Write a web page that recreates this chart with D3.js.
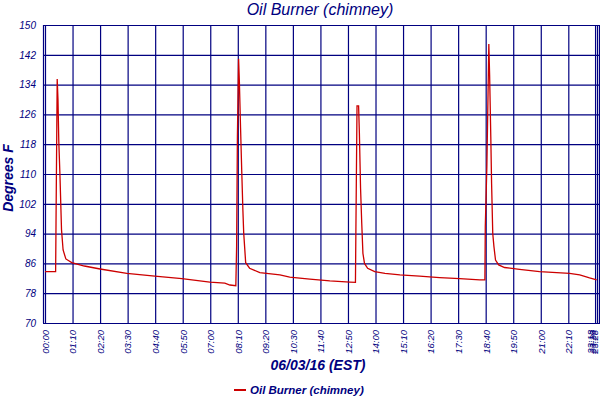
<!DOCTYPE html>
<html>
<head>
<meta charset="utf-8">
<script src="https://cdn.jsdelivr.net/npm/d3@7"></script>
<style>
  body { margin: 0; background: #fff; }
  svg { display: block; font-family: "Liberation Sans", Arial, sans-serif; }
  .axis text { fill: #000080; font-style: italic; font-size: 10px; }
  .axis line { stroke: #000080; stroke-width: 1.2; }
  .axis .domain { display: none; }
</style>
</head>
<body>
<svg id="chart"></svg>
<script>
// Readings: time of day (HH:MM) and temperature in degrees F
const times = [
  '00:00','00:27','00:28','00:30','00:31','00:33','00:35','00:38','00:42','00:46','00:53','01:08','01:40','02:20','03:28','04:39','05:48','06:59','07:37','07:50','08:05',
  '08:07','08:09','08:12','08:14','08:17','08:20','08:23','08:25','08:30','08:40','09:06','09:57','10:22','11:13','12:04','12:55','13:09',
  '13:10','13:13','13:17','13:19','13:22','13:25','13:28','13:32','13:40','13:58','14:24','15:02','15:52','16:43','17:34','18:25','18:38',
  '18:39','18:43','18:48','18:50','18:53','18:55','18:58','19:01','19:05','19:13','19:28','20:06','20:57','22:13','22:39','23:04','23:22'
];
const temps = [
  83.8, 83.8, 96.8, 122.7, 135.5, 130, 119, 109.7, 95, 89.6, 87.2, 86.2, 85.3, 84.5, 83.3, 82.6, 81.9, 81, 80.7, 80.2, 80.0,
  90.5, 120, 140.9, 134.8, 122.4, 110.9, 100.1, 94.2, 86.2, 84.7, 83.5, 82.9, 82.3, 81.8, 81.3, 81.0, 80.9,
  93.2, 128.3, 128.3, 121, 106.2, 96.8, 88.7, 86, 84.7, 83.8, 83.3, 82.9, 82.6, 82.2, 81.9, 81.6, 81.6,
  95.9, 112, 144.9, 136.6, 120, 107.5, 94, 90.5, 86.9, 85.6, 84.9, 84.4, 83.8, 83.3, 82.9, 82.1, 81.6
];

const yTicks = [70, 78, 86, 94, 102, 110, 118, 126, 134, 142, 150];
const xTickLabels = [
  '00:00','01:10','02:20','03:30','04:40','05:50','07:00','08:10','09:20','10:30',
  '11:40','12:50','14:00','15:10','16:20','17:30','18:40','19:50','21:00','22:10',
  '23:18','23:23','23:28'
];

const title = 'Oil Burner (chimney)';
const yTitle = 'Degrees F';
const xTitle = '06/03/16 (EST)';
const seriesName = 'Oil Burner (chimney)';

const toMinutes = s => { const [h, m] = s.split(':').map(Number); return h * 60 + m; };
const data = times.map((t, i) => ({ t: toMinutes(t), v: temps[i] }));

const navy = '#000080';
const red = '#cc0000';

const W = 600, H = 400;
const margin = { top: 25, right: 1, bottom: 77, left: 45 };
const width = W - margin.left - margin.right;
const height = H - margin.top - margin.bottom;

const svg = d3.select('#chart').attr('width', W).attr('height', H);

const x = d3.scaleLinear()
  .domain([0, toMinutes(xTickLabels[xTickLabels.length - 1])])
  .range([0, width]);

const y = d3.scaleLinear()
  .domain([70, 150])
  .range([height, 0]);

const chart = svg.append('g')
  .attr('transform', `translate(${margin.left},${margin.top})`);

// y axis with grid lines across the plot
const yAxis = d3.axisLeft(y)
  .tickValues(yTicks)
  .tickSize(-(width + 3))
  .tickPadding(7)
  .tickFormat(d3.format('d'));

chart.append('g')
  .attr('class', 'axis y-axis')
  .attr('transform', 'translate(-2,0)')
  .call(yAxis);

// x axis: vertical grid lines, rotated labels
const xAxis = d3.axisBottom(x)
  .tickValues(xTickLabels.map(toMinutes))
  .tickSize(-height)
  .tickFormat((d, i) => xTickLabels[i]);

const xAxisG = chart.append('g')
  .attr('class', 'axis x-axis')
  .attr('transform', `translate(0,${height})`)
  .call(xAxis);

// the last few labels crowd the right edge; keep them inside the frame
const nLabels = xTickLabels.length;
xAxisG.selectAll('text')
  .attr('transform', 'rotate(-90)')
  .attr('text-anchor', 'end')
  .attr('x', -7)
  .attr('y', 0)
  .attr('dy', (d, i) => i >= nLabels - 3 ? '-0.15em' : '0.35em')
  .style('font-size', '9.5px');

// left frame line (sits just outside the 00:00 grid line)
chart.append('line')
  .attr('x1', -1.5).attr('x2', -1.5)
  .attr('y1', 0).attr('y2', height)
  .attr('stroke', navy)
  .attr('stroke-width', 1.2);

// series line
const line = d3.line()
  .x(d => x(d.t))
  .y(d => y(d.v));

chart.append('path')
  .datum(data)
  .attr('fill', 'none')
  .attr('stroke', red)
  .attr('stroke-width', 1.3)
  .attr('d', line);

// titles
svg.append('text')
  .attr('x', 320).attr('y', 15)
  .attr('text-anchor', 'middle')
  .attr('fill', navy)
  .style('font-size', '16px')
  .style('font-style', 'italic')
  .text(title);

svg.append('text')
  .attr('transform', 'translate(13,178) rotate(-90)')
  .attr('text-anchor', 'middle')
  .attr('fill', navy)
  .style('font-size', '14px')
  .style('font-style', 'italic')
  .style('font-weight', 'bold')
  .text(yTitle);

svg.append('text')
  .attr('x', 318).attr('y', 370)
  .attr('text-anchor', 'middle')
  .attr('fill', navy)
  .style('font-size', '14px')
  .style('font-style', 'italic')
  .style('font-weight', 'bold')
  .text(xTitle);

// legend
const legend = svg.append('g').attr('transform', 'translate(234,390)');
legend.append('line')
  .attr('x1', 0).attr('x2', 12)
  .attr('stroke', red)
  .attr('stroke-width', 2);
legend.append('text')
  .attr('x', 16).attr('dy', '0.35em')
  .attr('fill', navy)
  .style('font-size', '11.5px')
  .style('font-style', 'italic')
  .style('font-weight', 'bold')
  .text(seriesName);
</script>
</body>
</html>
